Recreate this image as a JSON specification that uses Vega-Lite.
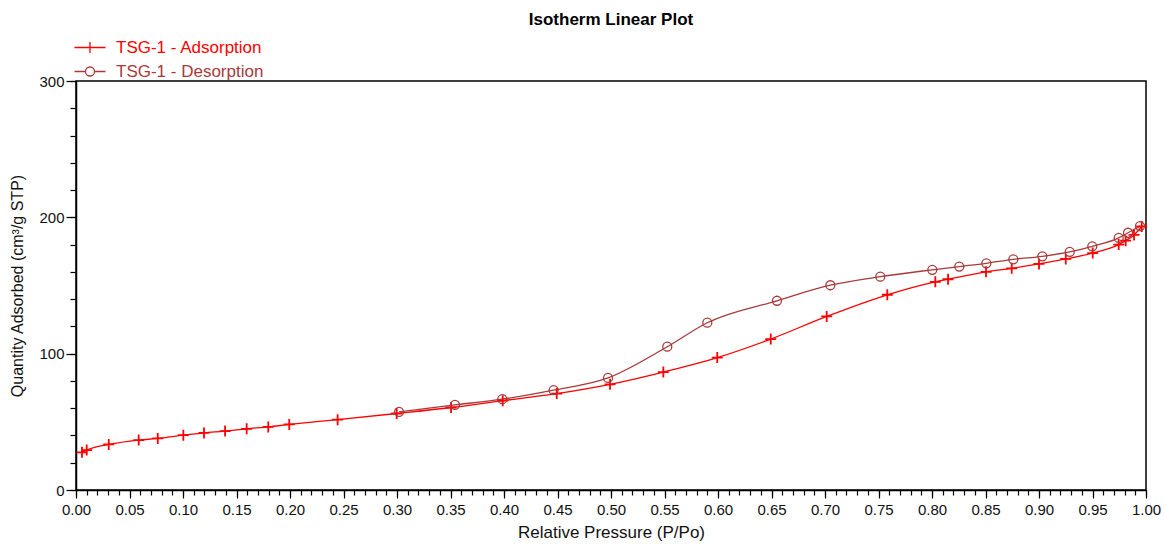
{
  "$schema": "https://vega.github.io/schema/vega-lite/v6.json",
  "autosize": "none",
  "width": 1070,
  "height": 409,
  "padding": {"left": 76, "top": 81, "right": 18, "bottom": 54},
  "background": "white",
  "config": {
    "font": "Liberation Sans",
    "view": {"stroke": "black", "strokeWidth": 1.5},
    "axis": {"grid": false, "domainColor": "black", "domainWidth": 1.5, "tickColor": "black", "tickWidth": 1.2, "labelColor": "#111", "titleColor": "#111", "labelFont": "Liberation Sans", "titleFont": "Liberation Sans", "titleFontWeight": "normal"}
  },
  "title": {"text": "Isotherm Linear Plot", "fontSize": 17, "fontWeight": "bold", "font": "Liberation Sans", "anchor": "middle", "color": "black", "frame": "group", "offset": 10},
  "datasets": {
    "iso": [
      {"series": "TSG-1 - Adsorption", "p": 0.0056, "q": 27.6},
      {"series": "TSG-1 - Adsorption", "p": 0.0100, "q": 29.3},
      {"series": "TSG-1 - Adsorption", "p": 0.0306, "q": 33.4},
      {"series": "TSG-1 - Adsorption", "p": 0.0586, "q": 36.6},
      {"series": "TSG-1 - Adsorption", "p": 0.0764, "q": 37.8},
      {"series": "TSG-1 - Adsorption", "p": 0.1003, "q": 40.2},
      {"series": "TSG-1 - Adsorption", "p": 0.1196, "q": 41.9},
      {"series": "TSG-1 - Adsorption", "p": 0.1393, "q": 43.2},
      {"series": "TSG-1 - Adsorption", "p": 0.1595, "q": 44.9},
      {"series": "TSG-1 - Adsorption", "p": 0.1797, "q": 46.3},
      {"series": "TSG-1 - Adsorption", "p": 0.1993, "q": 48.1},
      {"series": "TSG-1 - Adsorption", "p": 0.2445, "q": 51.6},
      {"series": "TSG-1 - Adsorption", "p": 0.2997, "q": 56.1},
      {"series": "TSG-1 - Adsorption", "p": 0.3505, "q": 60.5},
      {"series": "TSG-1 - Adsorption", "p": 0.3988, "q": 65.5},
      {"series": "TSG-1 - Adsorption", "p": 0.4493, "q": 70.7},
      {"series": "TSG-1 - Adsorption", "p": 0.4991, "q": 77.5},
      {"series": "TSG-1 - Adsorption", "p": 0.5489, "q": 86.5},
      {"series": "TSG-1 - Adsorption", "p": 0.5993, "q": 97.1},
      {"series": "TSG-1 - Adsorption", "p": 0.6493, "q": 110.7},
      {"series": "TSG-1 - Adsorption", "p": 0.7016, "q": 127.3},
      {"series": "TSG-1 - Adsorption", "p": 0.7582, "q": 143.2},
      {"series": "TSG-1 - Adsorption", "p": 0.8031, "q": 152.7},
      {"series": "TSG-1 - Adsorption", "p": 0.8150, "q": 154.6},
      {"series": "TSG-1 - Adsorption", "p": 0.8505, "q": 160.0},
      {"series": "TSG-1 - Adsorption", "p": 0.8745, "q": 162.6},
      {"series": "TSG-1 - Adsorption", "p": 0.9000, "q": 165.8},
      {"series": "TSG-1 - Adsorption", "p": 0.9250, "q": 169.5},
      {"series": "TSG-1 - Adsorption", "p": 0.9502, "q": 173.8},
      {"series": "TSG-1 - Adsorption", "p": 0.9745, "q": 180.0},
      {"series": "TSG-1 - Adsorption", "p": 0.9810, "q": 182.9},
      {"series": "TSG-1 - Adsorption", "p": 0.9888, "q": 187.1},
      {"series": "TSG-1 - Adsorption", "p": 0.9960, "q": 193.3},
      {"series": "TSG-1 - Desorption", "p": 0.9944, "q": 193.6},
      {"series": "TSG-1 - Desorption", "p": 0.9832, "q": 188.7},
      {"series": "TSG-1 - Desorption", "p": 0.9745, "q": 184.9},
      {"series": "TSG-1 - Desorption", "p": 0.9498, "q": 178.7},
      {"series": "TSG-1 - Desorption", "p": 0.9287, "q": 174.6},
      {"series": "TSG-1 - Desorption", "p": 0.9031, "q": 171.4},
      {"series": "TSG-1 - Desorption", "p": 0.8760, "q": 169.2},
      {"series": "TSG-1 - Desorption", "p": 0.8508, "q": 166.3},
      {"series": "TSG-1 - Desorption", "p": 0.8255, "q": 163.9},
      {"series": "TSG-1 - Desorption", "p": 0.8003, "q": 161.5},
      {"series": "TSG-1 - Desorption", "p": 0.7517, "q": 156.5},
      {"series": "TSG-1 - Desorption", "p": 0.7050, "q": 150.2},
      {"series": "TSG-1 - Desorption", "p": 0.6551, "q": 138.8},
      {"series": "TSG-1 - Desorption", "p": 0.5900, "q": 122.7},
      {"series": "TSG-1 - Desorption", "p": 0.5526, "q": 105.1},
      {"series": "TSG-1 - Desorption", "p": 0.4972, "q": 82.2},
      {"series": "TSG-1 - Desorption", "p": 0.4464, "q": 73.2},
      {"series": "TSG-1 - Desorption", "p": 0.3984, "q": 66.6},
      {"series": "TSG-1 - Desorption", "p": 0.3542, "q": 62.4},
      {"series": "TSG-1 - Desorption", "p": 0.3019, "q": 57.3}
    ]
  },
  "data": {"name": "iso"},
  "layer": [
    {
      "mark": {"type": "line", "interpolate": "monotone", "strokeWidth": 1.3},
      "encoding": {
        "x": {"field": "p", "type": "quantitative", "scale": {"domain": [0, 1], "nice": false, "zero": false},
              "axis": {"orient": "bottom", "values": [0,0.05,0.1,0.15,0.2,0.25,0.3,0.35,0.4,0.45,0.5,0.55,0.6,0.65,0.7,0.75,0.8,0.85,0.9,0.95,1], "format": ".2f", "tickSize": 8, "labelFontSize": 15, "labelPadding": 4, "labelFlush": false, "labelOverlap": false, "title": "Relative Pressure (P/Po)", "titleFontSize": 17, "titlePadding": 7}},
        "y": {"field": "q", "type": "quantitative", "scale": {"domain": [0, 300], "nice": false},
              "axis": {"orient": "left", "values": [0, 100, 200, 300], "tickSize": 10, "labelFontSize": 15, "labelPadding": 2, "labelFlush": false, "title": "Quantity Adsorbed (cm³/g STP)", "titleFontSize": 16, "titlePadding": 13}},
        "color": {"field": "series", "type": "nominal", "scale": {"domain": ["TSG-1 - Adsorption", "TSG-1 - Desorption"], "range": ["#ff0000", "#a83a3a"]}, "legend": null}
      }
    },
    {
      "mark": {"type": "point", "filled": false, "size": 100, "opacity": 1},
      "encoding": {
        "x": {"field": "p", "type": "quantitative",
              "axis": {"orient": "bottom", "values": [0,0.01,0.02,0.03,0.04,0.05,0.06,0.07,0.08,0.09,0.1,0.11,0.12,0.13,0.14,0.15,0.16,0.17,0.18,0.19,0.2,0.21,0.22,0.23,0.24,0.25,0.26,0.27,0.28,0.29,0.3,0.31,0.32,0.33,0.34,0.35,0.36,0.37,0.38,0.39,0.4,0.41,0.42,0.43,0.44,0.45,0.46,0.47,0.48,0.49,0.5,0.51,0.52,0.53,0.54,0.55,0.56,0.57,0.58,0.59,0.6,0.61,0.62,0.63,0.64,0.65,0.66,0.67,0.68,0.69,0.7,0.71,0.72,0.73,0.74,0.75,0.76,0.77,0.78,0.79,0.8,0.81,0.82,0.83,0.84,0.85,0.86,0.87,0.88,0.89,0.9,0.91,0.92,0.93,0.94,0.95,0.96,0.97,0.98,0.99,1], "labels": false, "tickSize": 5, "title": null, "domain": false}},
        "y": {"field": "q", "type": "quantitative",
              "axis": {"orient": "left", "values": [0,20,40,60,80,100,120,140,160,180,200,220,240,260,280,300], "labels": false, "tickSize": 6, "title": null, "domain": false}},
        "color": {"field": "series", "type": "nominal", "legend": null},
        "shape": {"field": "series", "type": "nominal", "legend": null, "scale": {"domain": ["TSG-1 - Adsorption", "TSG-1 - Desorption"], "range": ["M-1.1,0H1.1M0,-1.1V1.1", "M-0.9,0A0.9,0.9,0,1,1,0.9,0A0.9,0.9,0,1,1,-0.9,0"]}},
        "strokeWidth": {"field": "series", "type": "nominal", "legend": null, "scale": {"domain": ["TSG-1 - Adsorption", "TSG-1 - Desorption"], "range": [1.8, 1.3]}}
      }
    },
    {
      "transform": [{"filter": "datum.q < 0"}],
      "mark": {"type": "point", "filled": false, "size": 100, "opacity": 1, "strokeWidth": 1.3},
      "encoding": {
        "x": {"field": "p", "type": "quantitative", "axis": null},
        "y": {"field": "q", "type": "quantitative", "axis": null},
        "color": {"field": "series", "type": "nominal",
                  "legend": {"orient": "none", "legendX": 5.5, "legendY": -42, "title": null, "direction": "vertical", "padding": 0, "labelFontSize": 17, "labelFont": "Liberation Sans", "labelOffset": 17.5, "rowPadding": 6, "symbolSize": 100, "symbolStrokeWidth": 1.3,
                    "encoding": {"labels": {"fill": {"condition": {"test": "datum.value === 'TSG-1 - Adsorption'", "value": "#ff0000"}, "value": "#a83a3a"}}}}},
        "shape": {"field": "series", "type": "nominal",
                  "legend": {"orient": "none", "legendX": 5.5, "legendY": -42, "title": null, "direction": "vertical", "padding": 0, "labelFontSize": 17, "labelFont": "Liberation Sans", "labelOffset": 17.5, "rowPadding": 6, "symbolSize": 100, "symbolStrokeWidth": 1.3,
                    "encoding": {"labels": {"fill": {"condition": {"test": "datum.value === 'TSG-1 - Adsorption'", "value": "#ff0000"}, "value": "#a83a3a"}}}},
                  "scale": {"domain": ["TSG-1 - Adsorption", "TSG-1 - Desorption"], "range": ["M-3.1,0H3.1M0,-1.1V1.1", "M-3.1,0H-0.9M0.9,0H3.1M-0.9,0A0.9,0.9,0,1,1,0.9,0A0.9,0.9,0,1,1,-0.9,0"]}}
      }
    }
  ],
  "resolve": {"axis": {"x": "independent", "y": "independent"}, "scale": {"shape": "independent", "strokeWidth": "independent"}, "legend": {"color": "independent", "shape": "independent"}}
}
